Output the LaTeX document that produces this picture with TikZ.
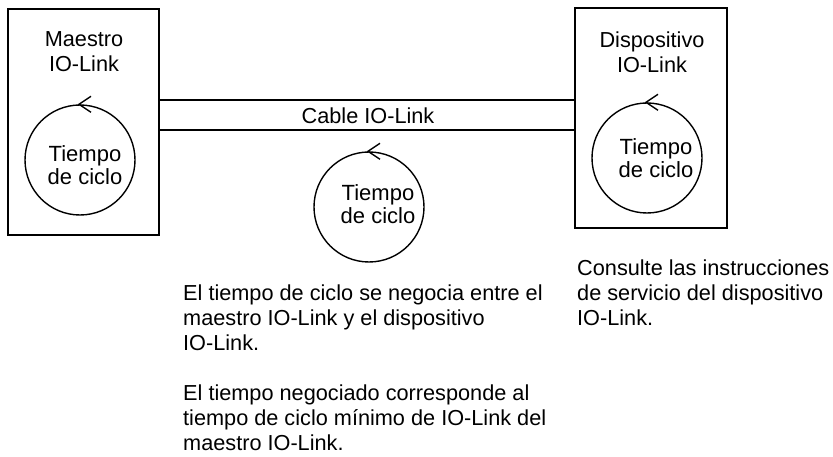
\documentclass[tikz,border=0pt]{standalone}
\usepackage{fontspec}
\setmainfont{Liberation Sans}
\begin{document}
\begin{tikzpicture}[x=1pt,y=-1pt,
  box/.style={draw, line width=1.8pt, inner sep=0pt, outer sep=0pt},
  cyc/.style={draw, circle, line width=1.4pt, minimum size=110pt, inner sep=0pt},
  cable/.style={line width=1.5pt},
  chev/.style={line width=1.4pt, line join=miter},
  lbl/.style={font=\fontsize{21.7}{25}\selectfont, align=center, inner sep=0pt},
  clbl/.style={font=\fontsize{22}{22.5}\selectfont, align=center, inner sep=0pt},
  para/.style={font=\fontsize{21.7}{25}\selectfont, align=left, inner sep=0pt, anchor=north west}]
\useasboundingbox (0,0) rectangle (833,457);

% boxes
\node[box, minimum width=151pt, minimum height=226pt] (master) at (83.5,122) {};
\node[box, minimum width=152pt, minimum height=220pt] (device) at (651,118) {};
\node[lbl, anchor=north] (mlab) at (84,31.5) {Maestro\\IO-Link};
\node[lbl, anchor=north] (dlab) at (652,31.5) {Dispositivo\\IO-Link};

% cable
\coordinate (ctop) at (367,100);
\coordinate (cbot) at (367,130);
\draw[cable] (master.east |- ctop) -- (device.west |- ctop);
\draw[cable] (master.east |- cbot) -- (device.west |- cbot);
\node[lbl] (cablelab) at (368,115.5) {Cable IO-Link};

% cycle circles
\node[cyc] (c1) at (80,160) {};
\node[cyc] (c2) at (647,158) {};
\node[cyc] (c3) at (369,207) {};
\foreach \c in {c1,c2,c3}{
  \draw[chev] ([shift={(11,-8)}]\c.north) -- ([shift={(-1,0)}]\c.north) -- ([shift={(11,8)}]\c.north);
}
\node[clbl] (t1) at (85,165) {Tiempo\\de ciclo};
\node[clbl] (t2) at (656,158) {Tiempo\\de ciclo};
\node[clbl] (t3) at (378,204) {Tiempo\\de ciclo};

% notes
\node[para] (note1) at (183,284.2) {El tiempo de ciclo se negocia entre el\\maestro IO-Link y el dispositivo\\IO-Link.\\[25pt]El tiempo negociado corresponde al\\tiempo de ciclo mínimo de IO-Link del\\maestro IO-Link.};
\node[para] (note2) at (577,259.2) {Consulte las instrucciones\\de servicio del dispositivo\\IO-Link.};
\end{tikzpicture}
\end{document}
